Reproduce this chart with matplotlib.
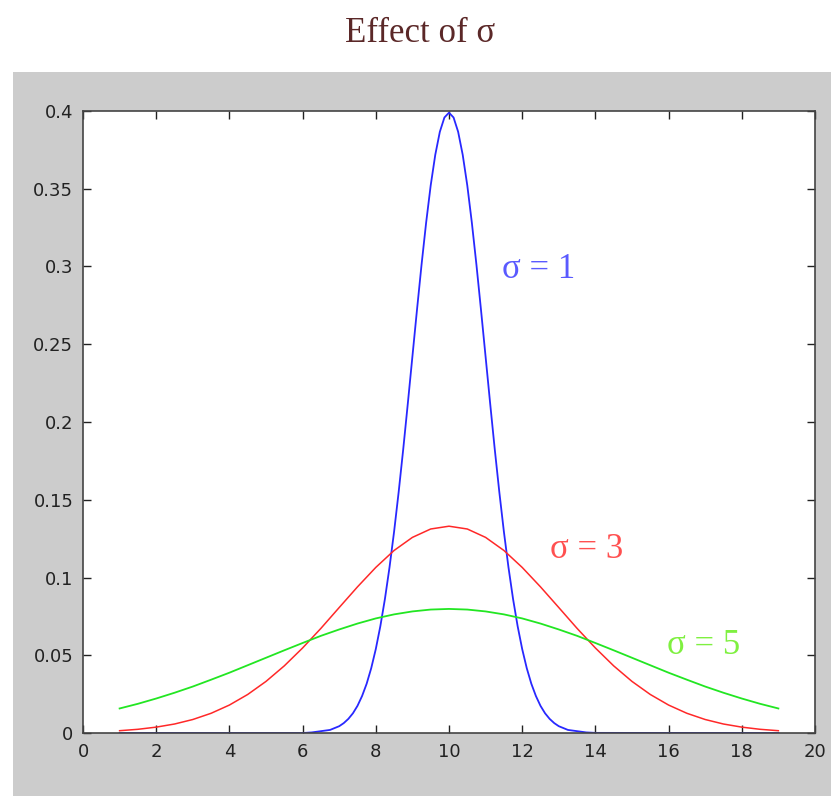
import matplotlib.pyplot as plt
from matplotlib.patches import Rectangle

# sigma = 1 curve (mean 10)
x_blue = [1, 6, 6.25, 6.75, 7, 7.125, 7.25, 7.375, 7.5, 7.625, 7.75, 7.875, 8, 8.125, 8.25,
          8.375, 8.5, 8.625, 8.75, 8.875, 9, 9.125, 9.25, 9.375, 9.5, 9.625, 9.75, 9.875, 10,
          10.125, 10.25, 10.375, 10.5, 10.625, 10.75, 10.875, 11, 11.125, 11.25, 11.375, 11.5,
          11.625, 11.75, 11.875, 12, 12.125, 12.25, 12.375, 12.5, 12.625, 12.75, 12.875, 13,
          13.25, 13.75, 14, 19]
y_blue = [0, 0, 0.0004, 0.002, 0.0044, 0.0064, 0.0091, 0.0127, 0.0175, 0.0238, 0.0317, 0.0417,
          0.054, 0.0688, 0.0863, 0.1066, 0.1295, 0.155, 0.1826, 0.2119, 0.242, 0.272, 0.3011,
          0.3281, 0.3521, 0.3718, 0.3866, 0.3958, 0.3989,
          0.3958, 0.3866, 0.3718, 0.3521, 0.3281, 0.3011, 0.272, 0.242, 0.2119, 0.1826, 0.155,
          0.1295, 0.1066, 0.0863, 0.0688, 0.054, 0.0417, 0.0317, 0.0238, 0.0175, 0.0127,
          0.0091, 0.0064, 0.0044, 0.002, 0.0004, 0.0001, 0]

# sigma = 3 and sigma = 5 curves
x_wide = [1, 1.5, 2, 2.5, 3, 3.5, 4, 4.5, 5, 5.5, 6, 6.5, 7, 7.5, 8, 8.5, 9, 9.5, 10,
          10.5, 11, 11.5, 12, 12.5, 13, 13.5, 14, 14.5, 15, 15.5, 16, 16.5, 17, 17.5, 18,
          18.5, 19]
y_red = [0.0015, 0.0024, 0.0038, 0.0058, 0.0087, 0.0127, 0.018, 0.0248, 0.0332, 0.0432,
         0.0547, 0.0673, 0.0807, 0.094, 0.1065, 0.1174, 0.1258, 0.1312, 0.133,
         0.1312, 0.1258, 0.1174, 0.1065, 0.094, 0.0807, 0.0673, 0.0547, 0.0432, 0.0332,
         0.0248, 0.018, 0.0127, 0.0087, 0.0058, 0.0038, 0.0024, 0.0015]
y_green = [0.0158, 0.0188, 0.0222, 0.0259, 0.0299, 0.0343, 0.0388, 0.0436, 0.0484, 0.0532,
           0.0579, 0.0625, 0.0666, 0.0704, 0.0737, 0.0763, 0.0782, 0.0794, 0.0798,
           0.0794, 0.0782, 0.0763, 0.0737, 0.0704, 0.0666, 0.0625, 0.0579, 0.0532, 0.0484,
           0.0436, 0.0388, 0.0343, 0.0299, 0.0259, 0.0222, 0.0188, 0.0158]

fig = plt.figure(figsize=(8.31, 7.96), dpi=100)
fig.patch.set_facecolor("white")

# grey panel behind the axes
fig.patches.append(Rectangle((0.0156, 0), 0.99, 0.9095, transform=fig.transFigure,
                             facecolor="#cccccc", edgecolor="none", zorder=-1))

fig.text(0.505, 0.958, "Effect of σ", ha="center", va="center", fontsize=25,
         family="Liberation Serif", color="#5b2828")

ax = fig.add_axes([0.0999, 0.0791, 0.8808, 0.7815])
ax.set_zorder(2)
ax.set_facecolor("white")

ax.plot(x_blue, y_blue, color="#2828ff", lw=1.3)
ax.plot(x_wide, y_red, color="#ff2828", lw=1.1)
ax.plot(x_wide, y_green, color="#22e622", lw=1.3)

ax.text(11.45, 0.298, "σ = 1", color="#5a5aff", fontsize=25, family="Liberation Serif",
        va="center")
ax.text(12.75, 0.118, "σ = 3", color="#ff5050", fontsize=25, family="Liberation Serif",
        va="center")
ax.text(15.95, 0.0566, "σ = 5", color="#7ff040", fontsize=25, family="Liberation Serif",
        va="center")

ax.set_xlim(0, 20)
ax.set_ylim(0, 0.4)
ax.set_xticks(range(0, 21, 2))
ax.set_yticks([0, 0.05, 0.1, 0.15, 0.2, 0.25, 0.3, 0.35, 0.4])
ax.set_yticklabels(["0", "0.05", "0.1", "0.15", "0.2", "0.25", "0.3", "0.35", "0.4"])
ax.tick_params(direction="in", top=True, right=True, length=6, width=1,
               labelsize=13, colors="#222222", pad=7)
for s in ax.spines.values():
    s.set_color("#444444")
    s.set_linewidth(1.2)

fig.savefig("out.png", dpi=100)
